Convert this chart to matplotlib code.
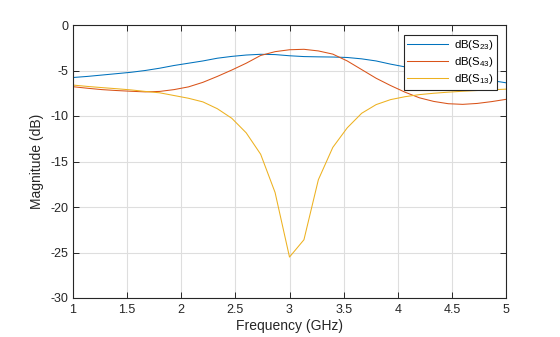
import numpy as np
import matplotlib
matplotlib.use("Agg")
import matplotlib.pyplot as plt

plt.rcParams['font.family'] = ['Liberation Sans', 'DejaVu Sans']
plt.rcParams['axes.unicode_minus'] = False
plt.rcParams['mathtext.fontset'] = 'custom'
plt.rcParams['mathtext.rm'] = 'Liberation Sans'

freq = np.linspace(1, 5, 31)

s23 = [-5.77, -5.65, -5.5, -5.35, -5.2, -5.0, -4.75, -4.45, -4.2, -3.95,
       -3.65, -3.45, -3.3, -3.22, -3.25, -3.38, -3.47, -3.5, -3.52, -3.57,
       -3.72, -3.95, -4.3, -4.6, -4.9, -5.15, -5.4, -5.65, -5.9, -6.1, -6.35]
s43 = [-6.78, -6.95, -7.1, -7.2, -7.28, -7.35, -7.3, -7.1, -6.8, -6.3,
       -5.65, -4.95, -4.2, -3.35, -2.93, -2.72, -2.67, -2.85, -3.2, -3.95,
       -4.9, -5.85, -6.65, -7.38, -8.0, -8.4, -8.65, -8.72, -8.62, -8.42, -8.17]
s13 = [-6.6, -6.75, -6.88, -7.0, -7.13, -7.3, -7.45, -7.75, -8.05, -8.45,
       -9.2, -10.25, -11.85, -14.2, -18.4, -25.5, -23.6, -17.0, -13.45, -11.3,
       -9.7, -8.75, -8.2, -7.88, -7.65, -7.5, -7.38, -7.28, -7.2, -7.12, -7.05]

labels = ['dB(S$_{\\mathregular{23}}$)', 'dB(S$_{\\mathregular{43}}$)',
          'dB(S$_{\\mathregular{13}}$)']
colors = ['#0072BD', '#D95319', '#EDB120']

xticks = [1, 1.5, 2, 2.5, 3, 3.5, 4, 4.5, 5]
xticklabels = ['1', '1.5', '2', '2.5', '3', '3.5', '4', '4.5', '5']
yticks = [-30, -25, -20, -15, -10, -5, 0]
yticklabels = ['-30', '-25', '-20', '-15', '-10', '-5', '0']

fig = plt.figure(figsize=(5.6, 3.37), dpi=100)
ax = fig.add_axes([73/560, 39/337, 433/560, 273/337])

for y, c, lab in zip([s23, s43, s13], colors, labels):
    ax.plot(freq, y, color=c, lw=0.75, label=lab)

ax.set_xlim(1, 5)
ax.set_ylim(-30, 0)
ax.set_xticks(xticks)
ax.set_xticklabels(xticklabels)
ax.set_yticks(yticks)
ax.set_yticklabels(yticklabels)
ax.grid(True, color='#dedede', lw=0.8)
ax.set_axisbelow(True)
for sp in ax.spines.values():
    sp.set_color('#262626')
    sp.set_linewidth(0.8)
ax.tick_params(direction='in', length=4, width=0.7, colors='#262626',
               labelsize=9, top=True, right=True)
ax.tick_params(axis='x', pad=4.5)
ax.tick_params(axis='y', pad=3)
ax.set_xlabel('Frequency (GHz)', fontsize=10, color='#262626', labelpad=2)
ax.set_ylabel('Magnitude (dB)', fontsize=10, color='#262626', labelpad=5)

leg = ax.legend(loc='upper right', bbox_to_anchor=((497-73)/433, (298-35)/273),
                borderaxespad=0, fontsize=8.2, frameon=True, fancybox=False,
                edgecolor='#262626', framealpha=1, handlelength=3.6,
                handletextpad=0.5, labelspacing=0.25, borderpad=0.3)
leg.get_frame().set_linewidth(0.8)

fig.savefig('out.png', dpi=100)
